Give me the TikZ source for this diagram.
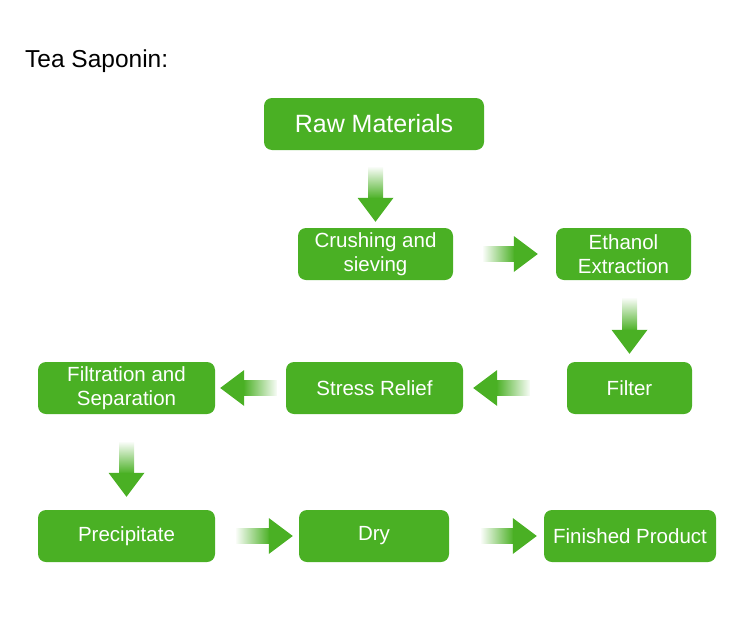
\documentclass[tikz,border=0pt]{standalone}
\usepackage{fontspec}
\setmainfont{Liberation Sans}
\usetikzlibrary{calc}
\definecolor{tgreen}{RGB}{74,176,36}

\tikzset{
  stage/.style={fill=tgreen, text=white, rounded corners=8pt, minimum height=52pt,
    inner sep=0pt, align=center, font=\fontsize{20.5}{24}\selectfont},
}

% block arrows: source, target, gap at tail, gap at tip
\newcommand\arrowright[4]{%
  \path (#1.east) ++(#3,0) coordinate (tl) (#2.west) ++(-#4,0) coordinate (tp);
  \shade [left color=tgreen!4, right color=tgreen] (tl |- tp) ++(0,-7.5) rectangle ($(tp)+(-23,7.5)$);
  \fill [tgreen] ($(tp)+(-24,-18)$) -- (tp) -- ($(tp)+(-24,18)$) -- cycle;}
\newcommand\arrowleft[4]{%
  \path (#1.west) ++(-#3,0) coordinate (tl) (#2.east) ++(#4,0) coordinate (tp);
  \shade [left color=tgreen, right color=tgreen!4] (tl |- tp) ++(0,-7.5) rectangle ($(tp)+(23,7.5)$);
  \fill [tgreen] ($(tp)+(24,-18)$) -- (tp) -- ($(tp)+(24,18)$) -- cycle;}
\newcommand\arrowdown[4]{%
  \path (#1.south) ++(0,#3) coordinate (tl) (#2.north) ++(0,-#4) coordinate (tp);
  \shade [top color=tgreen!4, bottom color=tgreen] (tl -| tp) ++(-7.5,0) rectangle ($(tp)+(7.5,-23)$);
  \fill [tgreen] ($(tp)+(-18,-24)$) -- (tp) -- ($(tp)+(18,-24)$) -- cycle;}

\begin{document}
\begin{tikzpicture}[x=1pt,y=-1pt]
\useasboundingbox (0,0) rectangle (750,624);
\node [anchor=base west, inner sep=0pt, font=\fontsize{24.5}{28}\selectfont] (title) at (25,67) {Tea Saponin:};
% first row
\node [stage, minimum width=220pt, font=\fontsize{25}{28}\selectfont] (raw) at (374,124) {Raw Materials};
\node [stage, minimum width=155pt] (crush) at (375.5,254) {Crushing and\\sieving};
\node [stage, minimum width=135pt] (ethanol) at (623.5,254) {Ethanol\\Extraction};
% second row
\node [stage, minimum width=125pt] (filter) at (629.5,388) {Filter};
\node [stage, minimum width=177pt] (stress) at (374.5,388) {Stress Relief};
\node [stage, minimum width=177pt] (filtration) at (126.5,388) {Filtration and\\Separation};
% third row
\node [stage, minimum width=177pt] (precip) at (126.5,536) {Precipitate};
\node [stage, minimum width=150pt] (dry) at (374,536) {Dry};
\node [stage, minimum width=172pt] (finished) at (630,536) {Finished Product};
% arrows
\arrowdown{raw}{crush}{17}{6}
\arrowright{crush}{ethanol}{30}{18}
\arrowdown{ethanol}{filter}{18}{8}
\arrowleft{filter}{stress}{37}{10}
\arrowleft{stress}{filtration}{9}{5}
\arrowdown{filtration}{precip}{28}{13}
\arrowright{precip}{dry}{21}{6}
\arrowright{dry}{finished}{32}{7}
\end{tikzpicture}
\end{document}
